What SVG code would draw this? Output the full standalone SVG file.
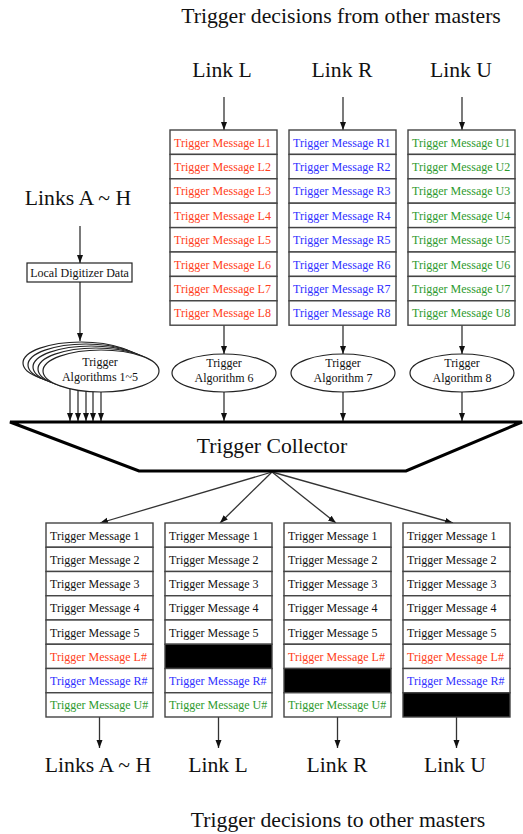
<svg xmlns="http://www.w3.org/2000/svg" width="523" height="834" viewBox="0 0 523 834">
<defs>
<marker id="ah" markerUnits="userSpaceOnUse" viewBox="0 0 8 8" refX="8" refY="4" markerWidth="8" markerHeight="8" orient="auto">
<path d="M0,1 L8,4 L0,7 z" fill="#111"/>
</marker>
<style>
.big{font-family:"Liberation Serif","Times New Roman",serif;font-size:21.7px;fill:#111;text-anchor:middle}
.msg{font-family:"Liberation Serif","Times New Roman",serif;font-size:12px;fill:#111}
.mid{font-family:"Liberation Serif","Times New Roman",serif;font-size:12px;fill:#111;text-anchor:middle}
.L{fill:#ff4020}
.R{fill:#3030ff}
.U{fill:#2e9a2e}
.cell{fill:#fff;stroke:#444;stroke-width:1.4}
.blk{fill:#000;stroke:#444;stroke-width:1.4}
.ell{fill:#fff;stroke:#222;stroke-width:1.2}
.con{stroke:#333;stroke-width:1.3;fill:none;marker-end:url(#ah)}
</style>
</defs>
<rect width="523" height="834" fill="#fff"/>

<g id="labels">
<text class="big" x="341" y="23">Trigger decisions from other masters</text>
<text class="big" x="222" y="77">Link L</text>
<text class="big" x="342" y="77">Link R</text>
<text class="big" x="461" y="77">Link U</text>
<text class="big" x="78" y="205">Links A ~ H</text>
<text class="big" x="98" y="772">Links A ~ H</text>
<text class="big" x="218" y="772">Link L</text>
<text class="big" x="337" y="772">Link R</text>
<text class="big" x="455" y="772">Link U</text>
<text class="big" x="338" y="827">Trigger decisions to other masters</text>
</g>

<g id="connectors">
<line class="con" x1="224" y1="97" x2="224" y2="130"/>
<line class="con" x1="343" y1="97" x2="343" y2="130"/>
<line class="con" x1="462" y1="97" x2="462" y2="130"/>
<line class="con" x1="80" y1="226" x2="80" y2="263"/>
<line class="con" x1="80" y1="282" x2="80" y2="341"/>
<line class="con" x1="224" y1="325" x2="224" y2="354"/>
<line class="con" x1="343" y1="325" x2="343" y2="354"/>
<line class="con" x1="462" y1="325" x2="462" y2="354"/>
<line class="con" x1="70" y1="389" x2="70" y2="421"/>
<line class="con" x1="78" y1="390" x2="78" y2="421"/>
<line class="con" x1="86" y1="391" x2="86" y2="421"/>
<line class="con" x1="93" y1="391" x2="93" y2="421"/>
<line class="con" x1="101" y1="391" x2="101" y2="421"/>
<line class="con" x1="224" y1="392" x2="224" y2="421"/>
<line class="con" x1="343" y1="392" x2="343" y2="421"/>
<line class="con" x1="462" y1="392" x2="462" y2="421"/>
<line class="con" x1="272" y1="472" x2="100" y2="523"/>
<line class="con" x1="272" y1="472" x2="220" y2="523"/>
<line class="con" x1="272" y1="472" x2="336" y2="523"/>
<line class="con" x1="272" y1="472" x2="453" y2="523"/>
<line class="con" x1="99.5" y1="717" x2="99.5" y2="748"/>
<line class="con" x1="218.5" y1="717" x2="218.5" y2="748"/>
<line class="con" x1="337.5" y1="717" x2="337.5" y2="748"/>
<line class="con" x1="456.5" y1="717" x2="456.5" y2="748"/>
</g>

<g id="digitizer">
<rect x="27" y="263" width="105" height="19" fill="#fff" stroke="#222" stroke-width="1.2"/>
<text class="mid" x="79.5" y="276.5">Local Digitizer Data</text>
</g>

<g id="table-L">
<rect class="cell" x="170" y="130" width="107" height="24.4"/>
<rect class="cell" x="170" y="154.4" width="107" height="24.4"/>
<rect class="cell" x="170" y="178.8" width="107" height="24.4"/>
<rect class="cell" x="170" y="203.2" width="107" height="24.4"/>
<rect class="cell" x="170" y="227.6" width="107" height="24.4"/>
<rect class="cell" x="170" y="252" width="107" height="24.4"/>
<rect class="cell" x="170" y="276.4" width="107" height="24.4"/>
<rect class="cell" x="170" y="300.8" width="107" height="24.4"/>
<text class="msg L" x="174" y="146.5">Trigger Message L1</text>
<text class="msg L" x="174" y="170.9">Trigger Message L2</text>
<text class="msg L" x="174" y="195.3">Trigger Message L3</text>
<text class="msg L" x="174" y="219.7">Trigger Message L4</text>
<text class="msg L" x="174" y="244.1">Trigger Message L5</text>
<text class="msg L" x="174" y="268.5">Trigger Message L6</text>
<text class="msg L" x="174" y="292.9">Trigger Message L7</text>
<text class="msg L" x="174" y="317.3">Trigger Message L8</text>
</g>

<g id="table-R">
<rect class="cell" x="289" y="130" width="107" height="24.4"/>
<rect class="cell" x="289" y="154.4" width="107" height="24.4"/>
<rect class="cell" x="289" y="178.8" width="107" height="24.4"/>
<rect class="cell" x="289" y="203.2" width="107" height="24.4"/>
<rect class="cell" x="289" y="227.6" width="107" height="24.4"/>
<rect class="cell" x="289" y="252" width="107" height="24.4"/>
<rect class="cell" x="289" y="276.4" width="107" height="24.4"/>
<rect class="cell" x="289" y="300.8" width="107" height="24.4"/>
<text class="msg R" x="293" y="146.5">Trigger Message R1</text>
<text class="msg R" x="293" y="170.9">Trigger Message R2</text>
<text class="msg R" x="293" y="195.3">Trigger Message R3</text>
<text class="msg R" x="293" y="219.7">Trigger Message R4</text>
<text class="msg R" x="293" y="244.1">Trigger Message R5</text>
<text class="msg R" x="293" y="268.5">Trigger Message R6</text>
<text class="msg R" x="293" y="292.9">Trigger Message R7</text>
<text class="msg R" x="293" y="317.3">Trigger Message R8</text>
</g>

<g id="table-U">
<rect class="cell" x="408" y="130" width="107" height="24.4"/>
<rect class="cell" x="408" y="154.4" width="107" height="24.4"/>
<rect class="cell" x="408" y="178.8" width="107" height="24.4"/>
<rect class="cell" x="408" y="203.2" width="107" height="24.4"/>
<rect class="cell" x="408" y="227.6" width="107" height="24.4"/>
<rect class="cell" x="408" y="252" width="107" height="24.4"/>
<rect class="cell" x="408" y="276.4" width="107" height="24.4"/>
<rect class="cell" x="408" y="300.8" width="107" height="24.4"/>
<text class="msg U" x="412" y="146.5">Trigger Message U1</text>
<text class="msg U" x="412" y="170.9">Trigger Message U2</text>
<text class="msg U" x="412" y="195.3">Trigger Message U3</text>
<text class="msg U" x="412" y="219.7">Trigger Message U4</text>
<text class="msg U" x="412" y="244.1">Trigger Message U5</text>
<text class="msg U" x="412" y="268.5">Trigger Message U6</text>
<text class="msg U" x="412" y="292.9">Trigger Message U7</text>
<text class="msg U" x="412" y="317.3">Trigger Message U8</text>
</g>

<g id="algorithms-1-5">
<ellipse class="ell" cx="81" cy="363" rx="58" ry="21"/>
<ellipse class="ell" cx="86" cy="365" rx="58" ry="21"/>
<ellipse class="ell" cx="91" cy="367" rx="58" ry="21"/>
<ellipse class="ell" cx="96" cy="369" rx="58" ry="21"/>
<ellipse class="ell" cx="101" cy="371" rx="58" ry="21"/>
<text class="mid" x="100" y="366">Trigger</text>
<text class="mid" x="100" y="381">Algorithms 1~5</text>
</g>

<g id="algorithm-6">
<ellipse class="ell" cx="224" cy="373" rx="52" ry="19"/>
<text class="mid" x="224" y="367">Trigger</text>
<text class="mid" x="224" y="382">Algorithm 6</text>
</g>
<g id="algorithm-7">
<ellipse class="ell" cx="343" cy="373" rx="52" ry="19"/>
<text class="mid" x="343" y="367">Trigger</text>
<text class="mid" x="343" y="382">Algorithm 7</text>
</g>
<g id="algorithm-8">
<ellipse class="ell" cx="462" cy="373" rx="52" ry="19"/>
<text class="mid" x="462" y="367">Trigger</text>
<text class="mid" x="462" y="382">Algorithm 8</text>
</g>

<g id="collector">
<polygon points="10,422 522,422 406,471 139,471" fill="#fff" stroke="#000" stroke-width="3" stroke-linejoin="miter"/>
<text class="big" x="272" y="453">Trigger Collector</text>
</g>

<g id="out-AH">
<rect class="cell" x="46" y="523" width="107" height="24.25"/>
<rect class="cell" x="46" y="547.25" width="107" height="24.25"/>
<rect class="cell" x="46" y="571.5" width="107" height="24.25"/>
<rect class="cell" x="46" y="595.75" width="107" height="24.25"/>
<rect class="cell" x="46" y="620" width="107" height="24.25"/>
<rect class="cell" x="46" y="644.25" width="107" height="24.25"/>
<rect class="cell" x="46" y="668.5" width="107" height="24.25"/>
<rect class="cell" x="46" y="692.75" width="107" height="24.25"/>
<text class="msg" x="50" y="539.5">Trigger Message 1</text>
<text class="msg" x="50" y="563.75">Trigger Message 2</text>
<text class="msg" x="50" y="588">Trigger Message 3</text>
<text class="msg" x="50" y="612.25">Trigger Message 4</text>
<text class="msg" x="50" y="636.5">Trigger Message 5</text>
<text class="msg L" x="50" y="660.75">Trigger Message L#</text>
<text class="msg R" x="50" y="685">Trigger Message R#</text>
<text class="msg U" x="50" y="709.25">Trigger Message U#</text>
</g>

<g id="out-L">
<rect class="cell" x="165" y="523" width="107" height="24.25"/>
<rect class="cell" x="165" y="547.25" width="107" height="24.25"/>
<rect class="cell" x="165" y="571.5" width="107" height="24.25"/>
<rect class="cell" x="165" y="595.75" width="107" height="24.25"/>
<rect class="cell" x="165" y="620" width="107" height="24.25"/>
<rect class="blk" x="165" y="644.25" width="107" height="24.25"/>
<rect class="cell" x="165" y="668.5" width="107" height="24.25"/>
<rect class="cell" x="165" y="692.75" width="107" height="24.25"/>
<text class="msg" x="169" y="539.5">Trigger Message 1</text>
<text class="msg" x="169" y="563.75">Trigger Message 2</text>
<text class="msg" x="169" y="588">Trigger Message 3</text>
<text class="msg" x="169" y="612.25">Trigger Message 4</text>
<text class="msg" x="169" y="636.5">Trigger Message 5</text>
<text class="msg R" x="169" y="685">Trigger Message R#</text>
<text class="msg U" x="169" y="709.25">Trigger Message U#</text>
</g>

<g id="out-R">
<rect class="cell" x="284" y="523" width="107" height="24.25"/>
<rect class="cell" x="284" y="547.25" width="107" height="24.25"/>
<rect class="cell" x="284" y="571.5" width="107" height="24.25"/>
<rect class="cell" x="284" y="595.75" width="107" height="24.25"/>
<rect class="cell" x="284" y="620" width="107" height="24.25"/>
<rect class="cell" x="284" y="644.25" width="107" height="24.25"/>
<rect class="blk" x="284" y="668.5" width="107" height="24.25"/>
<rect class="cell" x="284" y="692.75" width="107" height="24.25"/>
<text class="msg" x="288" y="539.5">Trigger Message 1</text>
<text class="msg" x="288" y="563.75">Trigger Message 2</text>
<text class="msg" x="288" y="588">Trigger Message 3</text>
<text class="msg" x="288" y="612.25">Trigger Message 4</text>
<text class="msg" x="288" y="636.5">Trigger Message 5</text>
<text class="msg L" x="288" y="660.75">Trigger Message L#</text>
<text class="msg U" x="288" y="709.25">Trigger Message U#</text>
</g>

<g id="out-U">
<rect class="cell" x="403" y="523" width="107" height="24.25"/>
<rect class="cell" x="403" y="547.25" width="107" height="24.25"/>
<rect class="cell" x="403" y="571.5" width="107" height="24.25"/>
<rect class="cell" x="403" y="595.75" width="107" height="24.25"/>
<rect class="cell" x="403" y="620" width="107" height="24.25"/>
<rect class="cell" x="403" y="644.25" width="107" height="24.25"/>
<rect class="cell" x="403" y="668.5" width="107" height="24.25"/>
<rect class="blk" x="403" y="692.75" width="107" height="24.25"/>
<text class="msg" x="407" y="539.5">Trigger Message 1</text>
<text class="msg" x="407" y="563.75">Trigger Message 2</text>
<text class="msg" x="407" y="588">Trigger Message 3</text>
<text class="msg" x="407" y="612.25">Trigger Message 4</text>
<text class="msg" x="407" y="636.5">Trigger Message 5</text>
<text class="msg L" x="407" y="660.75">Trigger Message L#</text>
<text class="msg R" x="407" y="685">Trigger Message R#</text>
</g>
</svg>
